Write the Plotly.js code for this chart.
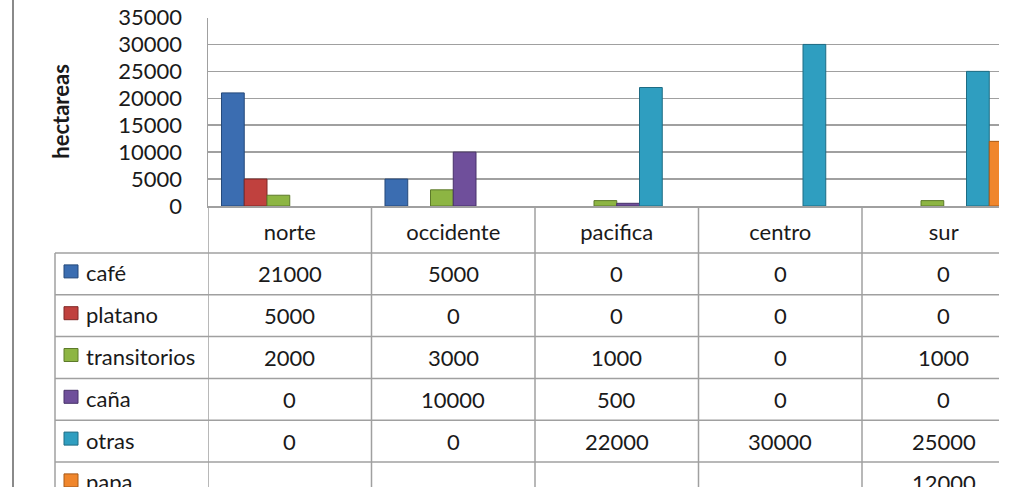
<!DOCTYPE html>
<html>
<head>
<meta charset="utf-8">
<script src="https://cdn.plot.ly/plotly-3.0.1.min.js"></script>
<style>
  html, body { margin: 0; padding: 0; background: #ffffff; overflow: hidden; }
  #chart { width: 1013px; height: 487px; }
</style>
</head>
<body>
<div id="chart"></div>
<script>
// ---------------- data ----------------
const categories = ['norte', 'occidente', 'pacifica', 'centro', 'sur'];
const seriesNames = ['café', 'platano', 'transitorios', 'caña', 'otras', 'papa'];
const cafe         = [21000, 5000, 0, 0, 0];
const platano      = [5000, 0, 0, 0, 0];
const transitorios = [2000, 3000, 1000, 0, 1000];
const cana         = [0, 10000, 500, 0, 0];
const otras        = [0, 0, 22000, 30000, 25000];
const papa         = [null, null, null, null, 12000];
const yTickValues  = [0, 5000, 10000, 15000, 20000, 25000, 30000, 35000];
const yAxisTitle   = 'hectareas';

// ---------------- style ----------------
const seriesValues = [cafe, platano, transitorios, cana, otras, papa];
const fillColors = ['#3b6db1', '#c0413e', '#8db543', '#6f4f9b', '#2f9ec0', '#f0862c'];
const edgeColors = ['#25497a', '#7f2826', '#5d7a2a', '#48326a', '#1e6c84', '#a85a17'];

const W = 1013, H = 487;
const xp = px => px / W;
const yp = py => 1 - py / H;
const FONT = 'Lato, "Liberation Sans", Arial, sans-serif';
const TXT = '#1a1a1a';
const LINE = '#a0a0a0';

const plotLeft = 208, plotRight = 999, plotTop = 17.5, plotBottom = 206;
const catW = 163.5;
const xMax = -0.5 + (plotRight - plotLeft) / catW;
const tableTop = 253, rowH = 41.8, tableLeft = 55;

// zero-height bars are not drawn (as in the reference)
const traces = seriesNames.map((name, k) => ({
  type: 'bar',
  name: name,
  x: categories.map((c, i) => i),
  y: seriesValues[k].map(v => (v === 0 ? null : v)),
  marker: { color: fillColors[k], line: { color: edgeColors[k], width: 1 } },
  hoverinfo: 'skip'
}));

const shapes = [];
const annotations = [];

// outer chart border on the left
shapes.push({ type: 'line', xref: 'paper', yref: 'paper', x0: xp(13), x1: xp(13), y0: 0, y1: 1,
  line: { color: '#8a8a8a', width: 2 } });

// vertical lines of the data table (category boundaries)
for (let i = 0; i <= categories.length; i++) {
  shapes.push({ type: 'line', xref: 'x', yref: 'paper', x0: i - 0.5, x1: i - 0.5,
    y0: yp(H + 5), y1: yp(plotBottom), line: { color: LINE, width: 1.5 } });
}
// left edge of the legend column
shapes.push({ type: 'line', xref: 'paper', yref: 'paper', x0: xp(tableLeft), x1: xp(tableLeft),
  y0: yp(H + 5), y1: yp(tableTop), line: { color: LINE, width: 1.5 } });

// horizontal row lines + row content
seriesNames.forEach((name, k) => {
  const top = tableTop + k * rowH;
  const mid = top + rowH / 2;
  shapes.push({ type: 'line', xref: 'paper', yref: 'paper', x0: xp(tableLeft), x1: xp(plotRight),
    y0: yp(top), y1: yp(top), line: { color: LINE, width: 1.5 } });
  // legend key
  shapes.push({ type: 'rect', xref: 'paper', yref: 'paper',
    x0: xp(64), x1: xp(78), y0: yp(mid - 9), y1: yp(mid + 4),
    fillcolor: fillColors[k], line: { color: edgeColors[k], width: 1 } });
  annotations.push({ xref: 'paper', yref: 'paper', x: xp(84), y: yp(mid - 1),
    xanchor: 'left', yanchor: 'middle', showarrow: false, text: name,
    font: { family: FONT, size: 22, color: TXT } });
  seriesValues[k].forEach((v, i) => {
    annotations.push({ xref: 'x', yref: 'paper', x: i, y: yp(mid),
      xanchor: 'center', yanchor: 'middle', showarrow: false,
      text: v === null ? '' : String(v),
      font: { family: FONT, size: 22, color: TXT } });
  });
});

// y axis title
annotations.push({ xref: 'paper', yref: 'paper', x: xp(61), y: yp((plotTop + plotBottom) / 2),
  xanchor: 'center', yanchor: 'middle', showarrow: false, textangle: -90,
  text: '<b>' + yAxisTitle + '</b>', font: { family: FONT, size: 22, color: TXT } });

const layout = {
  width: W, height: H,
  margin: { l: 0, r: 0, t: 0, b: 0 },
  paper_bgcolor: '#ffffff', plot_bgcolor: '#ffffff',
  showlegend: false,
  barmode: 'group', bargap: 0.165, bargroupgap: 0,
  font: { family: FONT, size: 22, color: TXT },
  xaxis: {
    domain: [xp(plotLeft), xp(plotRight)],
    range: [-0.5, xMax],
    tickmode: 'array', tickvals: categories.map((c, i) => i), ticktext: categories,
    showgrid: false, zeroline: false,
    showline: true, linecolor: LINE, linewidth: 1.5,
    ticks: '', ticklabelstandoff: 6,
    tickfont: { family: FONT, size: 22, color: TXT },
    fixedrange: true
  },
  yaxis: {
    domain: [yp(plotBottom), yp(plotTop)],
    range: [0, 35000],
    tickmode: 'array', tickvals: yTickValues, ticktext: yTickValues.map(String),
    showgrid: true, gridcolor: LINE, gridwidth: 1.5,
    zeroline: false,
    showline: true, linecolor: LINE, linewidth: 1.5,
    ticks: '', ticklabelstandoff: 20,
    tickfont: { family: FONT, size: 22, color: TXT },
    fixedrange: true
  },
  shapes: shapes,
  annotations: annotations
};

Plotly.newPlot('chart', traces, layout, { displayModeBar: false, staticPlot: true });
</script>
</body>
</html>
